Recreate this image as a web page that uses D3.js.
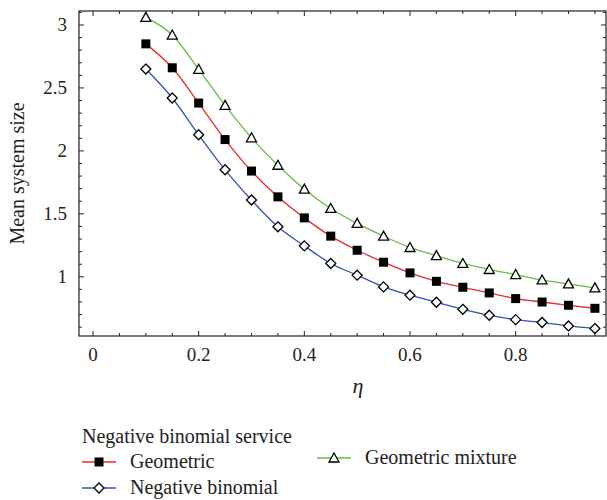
<!DOCTYPE html>
<html>
<head>
<meta charset="utf-8">
<script src="https://cdn.jsdelivr.net/npm/d3@7"></script>
<style>
  body { margin: 0; background: #fff; }
</style>
</head>
<body>
<svg width="607" height="500"></svg>
<script>
// eta values on the x axis
const eta = [0.1, 0.15, 0.2, 0.25, 0.3, 0.35, 0.4, 0.45, 0.5, 0.55, 0.6, 0.65, 0.7, 0.75, 0.8, 0.85, 0.9, 0.95];
// mean system size for each service distribution
const geometric = [2.85, 2.66, 2.38, 2.09, 1.84, 1.635, 1.468, 1.323, 1.211, 1.116, 1.031, 0.964, 0.917, 0.872, 0.827, 0.80, 0.774, 0.75];
const negBinomial = [2.65, 2.42, 2.128, 1.85, 1.61, 1.397, 1.246, 1.106, 1.013, 0.92, 0.854, 0.798, 0.742, 0.695, 0.66, 0.637, 0.61, 0.589];
const geoMixture = [3.06, 2.92, 2.648, 2.362, 2.104, 1.886, 1.696, 1.543, 1.424, 1.323, 1.233, 1.168, 1.106, 1.058, 1.018, 0.975, 0.944, 0.912];
const xTicks = [0, 0.2, 0.4, 0.6, 0.8];
const yTicks = [1, 1.5, 2, 2.5, 3];

const series = [
  {name: "Geometric", values: geometric, color: "#ee2a2a", shape: "square"},
  {name: "Negative binomial", values: negBinomial, color: "#2d55b5", shape: "diamond"},
  {name: "Geometric mixture", values: geoMixture, color: "#66bb44", shape: "triangle"}
];

const FONT = "'Liberation Serif', 'Times New Roman', serif";
const svg = d3.select("svg").style("font-family", FONT);
const pLeft = 79, pRight = 606, pTop = 11, pBottom = 336;

const x = d3.scaleLinear().domain([-0.0265, 0.971]).range([pLeft, pRight]);
const y = d3.scaleLinear().domain([0.53, 3.111]).range([pBottom, pTop]);

// frame
svg.append("rect")
  .attr("x", pLeft).attr("y", pTop)
  .attr("width", pRight - pLeft).attr("height", pBottom - pTop)
  .attr("fill", "none").attr("stroke", "#222").attr("stroke-width", 1.2);

const xMinor = d3.range(0, 0.97, 0.05);
const yMinor = d3.range(0.6, 3.11, 0.1);
const isMajorX = v => xTicks.some(t => Math.abs(t - v) < 1e-6);
const isMajorY = v => yTicks.some(t => Math.abs(t - v) < 1e-6);

const ticks = svg.append("g").attr("stroke", "#222").attr("stroke-width", 1);
xMinor.forEach(function (v) {
  const len = isMajorX(v) ? 5 : 3;
  ticks.append("line").attr("x1", x(v)).attr("x2", x(v)).attr("y1", pBottom).attr("y2", pBottom - len);
  ticks.append("line").attr("x1", x(v)).attr("x2", x(v)).attr("y1", pTop).attr("y2", pTop + len);
});
yMinor.forEach(function (v) {
  const len = isMajorY(v) ? 5 : 3;
  ticks.append("line").attr("y1", y(v)).attr("y2", y(v)).attr("x1", pLeft).attr("x2", pLeft + len);
  ticks.append("line").attr("y1", y(v)).attr("y2", y(v)).attr("x1", pRight).attr("x2", pRight - len);
});

// tick labels
svg.append("g").selectAll("text")
  .data(xTicks).enter().append("text")
  .attr("x", d => x(d)).attr("y", pBottom + 25)
  .attr("text-anchor", "middle")
  .attr("fill", "#222")
  .style("font-family", FONT).style("font-size", "19px")
  .text(d => d);

svg.append("g").selectAll("text")
  .data(yTicks).enter().append("text")
  .attr("x", pLeft - 12).attr("y", d => y(d) + 6)
  .attr("text-anchor", "end")
  .attr("fill", "#222")
  .style("font-family", FONT).style("font-size", "19px")
  .text(d => d);

// axis titles
svg.append("text")
  .attr("transform", "translate(24," + ((pTop + pBottom) / 2) + ") rotate(-90)")
  .attr("text-anchor", "middle")
  .attr("fill", "#222")
  .style("font-family", FONT).style("font-size", "20px")
  .text("Mean system size");

svg.append("text")
  .attr("x", 358).attr("y", 393)
  .attr("text-anchor", "middle")
  .attr("fill", "#222")
  .style("font-family", FONT).style("font-size", "22px").style("font-style", "italic")
  .text("η");

const line = d3.line()
  .x((d, i) => x(eta[i]))
  .y(d => y(d))
  .curve(d3.curveMonotoneX);

function drawMarker(g, shape, cx, cy) {
  if (shape === "square") {
    g.append("rect").attr("x", cx - 4.5).attr("y", cy - 4.5).attr("width", 9).attr("height", 9)
      .attr("fill", "#000");
  } else if (shape === "diamond") {
    g.append("path")
      .attr("d", "M" + cx + "," + (cy - 5) + "L" + (cx + 5) + "," + cy + "L" + cx + "," + (cy + 5) + "L" + (cx - 5) + "," + cy + "Z")
      .attr("fill", "#fff").attr("stroke", "#000").attr("stroke-width", 1.3);
  } else {
    g.append("path")
      .attr("d", "M" + cx + "," + (cy - 5) + "L" + (cx + 5) + "," + (cy + 4) + "L" + (cx - 5) + "," + (cy + 4) + "Z")
      .attr("fill", "#fff").attr("stroke", "#000").attr("stroke-width", 1.3);
  }
}

series.forEach(function (s) {
  const g = svg.append("g");
  g.append("path")
    .attr("d", line(s.values))
    .attr("fill", "none")
    .attr("stroke", s.color)
    .attr("stroke-width", 1.3);
  s.values.forEach(function (v, i) {
    drawMarker(g, s.shape, x(eta[i]), y(v));
  });
});

// legend
svg.append("text")
  .attr("x", 82).attr("y", 443)
  .attr("fill", "#222")
  .style("font-family", FONT).style("font-size", "20px")
  .text("Negative binomial service");

const legendPos = [
  {s: series[0], x: 82, y: 462},
  {s: series[1], x: 82, y: 488},
  {s: series[2], x: 317, y: 458}
];
legendPos.forEach(function (p) {
  const g = svg.append("g");
  g.append("line").attr("x1", p.x).attr("x2", p.x + 34).attr("y1", p.y).attr("y2", p.y)
    .attr("stroke", p.s.color).attr("stroke-width", 1.3);
  drawMarker(g, p.s.shape, p.x + 17, p.y);
  g.append("text").attr("x", p.x + 48).attr("y", p.y + 6)
    .attr("fill", "#222")
    .style("font-family", FONT).style("font-size", "20px")
    .text(p.s.name);
});
</script>
</body>
</html>
